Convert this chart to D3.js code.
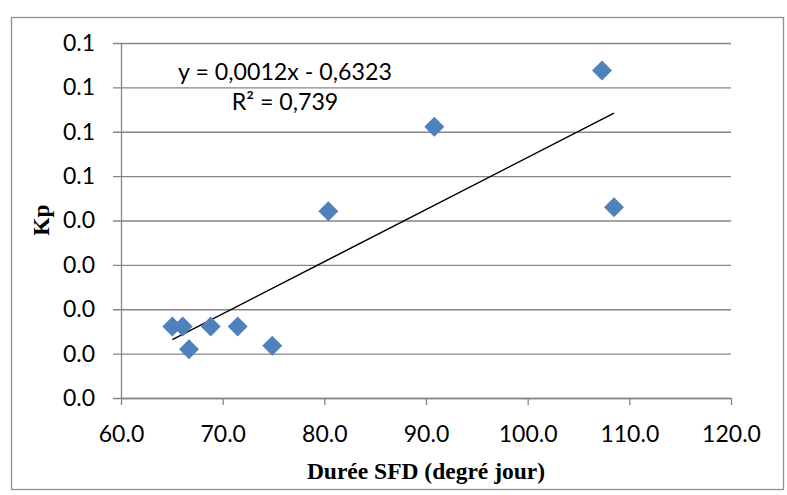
<!DOCTYPE html>
<html>
<head>
<meta charset="utf-8">
<script src="https://d3js.org/d3.v7.min.js"></script>
<style>
	body {
		margin: 0;
		background: #fff;
	}
	.axis text {
		font-family: Lato, "Open Sans", sans-serif;
		font-size: 23px;
		fill: #000;
	}
	.axis path, .axis line {
		stroke: #868686;
		stroke-width: 1.3px;
	}
	.title {
		font-family: "Liberation Serif", "Times New Roman", serif;
		font-weight: bold;
		font-size: 23.5px;
		fill: #000;
	}
	.eq {
		font-family: Lato, "Open Sans", sans-serif;
		font-size: 23.2px;
		fill: #000;
	}
</style>
</head>
<body>
<svg width="787" height="495"></svg>
<script>

// values
var duree = [65.05, 66.07, 66.69, 68.82, 71.48, 74.88, 80.39, 90.82, 107.31, 108.49];
var kp = [0.0161, 0.0161, 0.0110, 0.0161, 0.0161, 0.0118, 0.0421, 0.0611, 0.0738, 0.0430];

var xTicks = [60, 70, 80, 90, 100, 110, 120];
var yTicks = [0, 0.01, 0.02, 0.03, 0.04, 0.05, 0.06, 0.07, 0.08];

var eqText = "y = 0,0012x - 0,6323";
var r2Text = "R² = 0,739";
var xTitle = "Durée SFD (degré jour)";
var yTitle = "Kp";

var svg = d3.select("svg"),
margin = {
	top: 43,
	right: 56,
	bottom: 97,
	left: 121
},
width = +svg.attr("width") - margin.left - margin.right,
height = +svg.attr("height") - margin.top - margin.bottom;

// outer chart border
svg.append("rect")
	.attr("x", 11.5)
	.attr("y", 17.5)
	.attr("width", 772)
	.attr("height", 472)
	.attr("fill", "none")
	.attr("stroke", "#8f8f8f")
	.attr("stroke-width", 1.3);

var g = svg.append("g").attr("transform", "translate(" + margin.left + "," + margin.top + ")");

var x = d3.scaleLinear()
	.domain([60, 120])
	.range([0, width]);

var y = d3.scaleLinear()
	.domain([0, 0.08])
	.range([height, 0]);

// y axis + gridlines
var yAxis = g.append("g")
	.attr("class", "axis")
	.call(d3.axisLeft(y).tickValues(yTicks).tickFormat(d3.format(".1f")).tickSizeOuter(0));

yAxis.selectAll(".tick line")
	.attr("x1", -8)
	.attr("x2", width);

yAxis.selectAll(".tick text")
	.attr("x", -26);

// x axis
var xAxis = g.append("g")
	.attr("class", "axis")
	.attr("transform", "translate(0," + height + ")")
	.call(d3.axisBottom(x).tickValues(xTicks).tickFormat(d3.format(".1f")).tickSize(7).tickSizeOuter(0));

xAxis.selectAll(".tick text")
	.attr("y", 44)
	.attr("dy", 0);

// linear trend (least squares)
var mx = d3.mean(duree), my = d3.mean(kp);
var sxy = 0, sxx = 0;
for (var i = 0; i < duree.length; i++) {
	sxy += (duree[i] - mx) * (kp[i] - my);
	sxx += (duree[i] - mx) * (duree[i] - mx);
}
var slope = sxy / sxx, intercept = my - slope * mx;
var ext = d3.extent(duree);

g.append("path")
	.datum(ext)
	.attr("fill", "none")
	.attr("stroke", "#000")
	.attr("stroke-width", 1.5)
	.attr("d", d3.line()
		.x(function (d) { return x(d); })
		.y(function (d) { return y(slope * d + intercept); }));

// points
var data = duree.map(function (d, i) { return {x: d, y: kp[i]}; });

g.selectAll(".pt")
	.data(data)
	.enter().append("path")
	.attr("class", "pt")
	.attr("fill", "#4f81bd")
	.attr("d", d3.symbol().type(d3.symbolSquare).size(200))
	.attr("transform", function (d) {
		return "translate(" + x(d.x) + "," + y(d.y) + ") rotate(45)";
	});

// equation labels
svg.append("text")
	.attr("class", "eq")
	.attr("x", 285)
	.attr("y", 80)
	.attr("text-anchor", "middle")
	.text(eqText);

svg.append("text")
	.attr("class", "eq")
	.attr("x", 285)
	.attr("y", 110)
	.attr("text-anchor", "middle")
	.text(r2Text);

// axis titles
svg.append("text")
	.attr("class", "title")
	.attr("x", margin.left + width / 2)
	.attr("y", 479)
	.attr("text-anchor", "middle")
	.text(xTitle);

svg.append("text")
	.attr("class", "title")
	.attr("transform", "translate(49,220) rotate(-90)")
	.attr("text-anchor", "middle")
	.text(yTitle);

</script>
</body>
</html>
